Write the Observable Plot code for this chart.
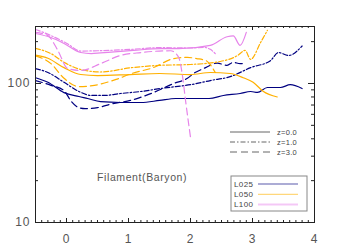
<!DOCTYPE html>
<html><head><meta charset="utf-8">
<script src="https://cdn.jsdelivr.net/npm/d3@7"></script>
<script src="https://cdn.jsdelivr.net/npm/@observablehq/plot@0.6"></script>
<style>
body{margin:0;background:#fff}
#chart svg g[aria-label="y-axis tick label"] text{letter-spacing:1px}
#chart svg g[aria-label="x-axis tick label"] text{letter-spacing:1px}
</style>
</head><body><div id="chart"></div>
<script>
// tick values
const xTicks = [0, 1, 2, 3, 4];
const yTicks = [10, 100];
const xMinor = d3.range(-5, 41).map(i => i / 10);
const yMinor = [20, 30, 40, 50, 60, 70, 80, 90, 200];

// series: [x, value]
const L025_z0 = [[-0.5,110],[-0.3,102],[-0.04,86],[0.2,80.6],[0.34,78],[0.55,74],[0.87,73],[1.2,73],[1.5,75.5],[1.76,78],[2.0,78],[2.3,78],[2.53,82],[2.8,84.7],[2.97,87.6],[3.08,86.2],[3.24,93.6],[3.45,93.6],[3.61,98],[3.8,92]];
const L025_z1 = [[-0.5,128],[-0.3,120],[-0.04,102],[0.2,87.6],[0.4,82],[0.6,82],[0.87,84.7],[1.2,87.6],[1.52,92],[1.76,95],[2.0,98],[2.32,105],[2.64,112],[2.97,130],[3.29,146],[3.42,167],[3.58,159],[3.8,186]];
const L025_z3 = [[-0.5,105],[-0.25,97],[-0.04,89],[0.07,75],[0.2,67],[0.3,66],[0.5,67],[0.71,71],[1.03,75.5],[1.4,86],[1.73,100],[1.95,109],[2.05,118],[2.21,128],[2.43,140],[2.59,135],[2.69,142],[2.8,139],[2.88,139]];
const L050_z0 = [[-0.5,160],[-0.3,152],[-0.04,130],[0.23,116],[0.5,114],[1.03,116],[1.5,118],[2.0,116],[2.32,120],[2.64,118],[2.85,110],[3.01,102],[3.17,88],[3.4,80]];
const L050_z1 = [[-0.5,179],[-0.25,164],[-0.04,142],[0.23,126],[0.55,121],[1.05,130],[1.5,135],[2.0,137],[2.48,144],[2.76,159],[2.88,173],[2.97,149],[3.13,197],[3.24,241]];
const L050_z3 = [[-0.5,158],[-0.25,139],[-0.04,109],[0.2,95],[0.45,97],[0.8,107],[1.05,118],[1.4,130],[1.73,151],[1.95,154],[2.1,151],[2.25,146],[2.4,120]];
const L100_z0 = [[-0.5,229],[-0.25,214],[-0.04,194],[0.23,167],[0.4,164],[0.55,166],[1.08,173],[1.52,178],[1.81,178],[2.32,188],[2.59,217],[2.69,220],[2.8,188],[2.9,233]];
const L100_z1 = [[-0.5,245],[-0.25,221],[0.0,195],[0.23,171],[0.5,172],[1.05,176],[1.5,181],[2.0,180],[2.21,182],[2.32,176],[2.4,164]];
const L100_z3 = [[-0.5,233],[-0.3,221],[-0.14,173],[0.02,128],[0.23,124],[0.55,139],[0.87,159],[1.2,167],[1.68,172],[1.81,154],[1.87,114],[1.92,75.5],[2.0,41]];

const boxNames = ["L025", "L050", "L100"];
const zNames = ["z=0.0", "z=1.0", "z=3.0"];
const colors = ["#000080", "#ffb000", "#e684ea"];
const dashes = [null, "5,2,1.5,2", "7,4"];

const series = [
  [L025_z0, 0, 0], [L025_z1, 0, 1], [L025_z3, 0, 2],
  [L050_z0, 1, 0], [L050_z1, 1, 1], [L050_z3, 1, 2],
  [L100_z0, 2, 0], [L100_z1, 2, 1], [L100_z3, 2, 2]
];

const W = 349, H = 249, mL = 35, mR = 35, mT = 26, mB = 27;
const fW = W - mL - mR, fH = H - mT - mB;
const axisCol = "#222";

const plot = Plot.plot({
  width: W, height: H,
  marginLeft: mL, marginRight: mR, marginTop: mT, marginBottom: mB,
  x: {domain: [-0.5, 4]},
  y: {type: "log", domain: [10, 257]},
  style: {fontFamily: "'Liberation Sans', sans-serif", background: "white"},
  marks: [
    ...series.map(([data, c, z]) => Plot.line(data, {
      x: d => d[0], y: d => d[1], stroke: colors[c], strokeWidth: 1.2,
      strokeDasharray: dashes[z], curve: "monotone-x", clip: true
    })),
    Plot.frame({stroke: axisCol}),
    Plot.tickX(xMinor, {x: d => d, insetTop: fH - 2, stroke: axisCol}),
    Plot.tickX(xMinor, {x: d => d, insetBottom: fH - 2, stroke: axisCol}),
    Plot.tickX(xTicks, {x: d => d, insetTop: fH - 4, stroke: axisCol}),
    Plot.tickX(xTicks, {x: d => d, insetBottom: fH - 4, stroke: axisCol}),
    Plot.tickY(yMinor, {y: d => d, insetRight: fW - 3, stroke: axisCol}),
    Plot.tickY(yMinor, {y: d => d, insetLeft: fW - 3, stroke: axisCol}),
    Plot.tickY(yTicks, {y: d => d, insetRight: fW - 6, stroke: axisCol}),
    Plot.tickY(yTicks, {y: d => d, insetLeft: fW - 6, stroke: axisCol}),
    Plot.axisX(xTicks, {tickSize: 0, tickPadding: 12, fontSize: 12, fill: "#555", tickFormat: d => String(d), label: null}),
    Plot.axisY(yTicks, {tickSize: 0, tickPadding: 5, fontSize: 12, fill: "#555", tickFormat: d => String(d), label: null})
  ]
});

const svg = d3.select(plot);
// redshift style legend
const zg = svg.append("g").attr("text-anchor", "start");
zNames.forEach((t, i) => {
  const y = 132 + i * 10;
  zg.append("line").attr("x1", 230).attr("x2", 270).attr("y1", y).attr("y2", y)
    .attr("stroke", "#555").attr("stroke-width", 0.9).attr("stroke-dasharray", dashes[i]);
  zg.append("text").attr("x", 277).attr("y", y + 2.6).attr("font-size", 7.5)
    .attr("fill", "#444").attr("letter-spacing", 0.3).text(t);
});
// box legend
const bg = svg.append("g").attr("text-anchor", "start");
bg.append("rect").attr("x", 231).attr("y", 176).attr("width", 76).attr("height", 35)
  .attr("fill", "none").attr("stroke", "#888").attr("stroke-width", 1);
boxNames.forEach((t, i) => {
  const y = 184 + i * 10.3;
  bg.append("text").attr("x", 234).attr("y", y + 2.8).attr("font-size", 8)
    .attr("fill", "#444").attr("letter-spacing", 0.4).text(t);
  bg.append("line").attr("x1", 258).attr("x2", 298).attr("y1", y).attr("y2", y)
    .attr("stroke", colors[i]).attr("stroke-width", i === 2 ? 2 : 1)
    .attr("stroke-opacity", i === 2 ? 0.45 : 0.65);
});
// annotation
svg.append("text").attr("text-anchor", "start").attr("x", 97).attr("y", 180.5).attr("font-size", 10.5)
  .attr("fill", "#555").attr("letter-spacing", 0.6).text("Filament(Baryon)");

document.getElementById("chart").appendChild(plot);
</script>
</body></html>
